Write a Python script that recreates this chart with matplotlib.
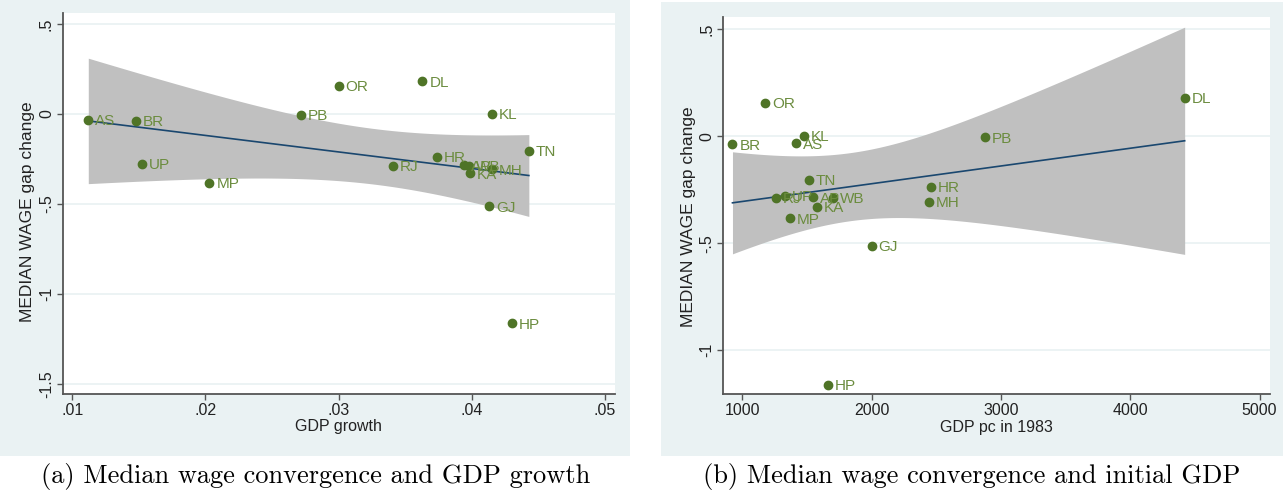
import numpy as np
import matplotlib
matplotlib.use("Agg")
import matplotlib.pyplot as plt
from matplotlib.patches import Rectangle

# datos: estados, cambio de la brecha salarial mediana, crecimiento y PIB inicial
states = ["AS", "BR", "UP", "MP", "PB", "OR", "DL", "KL", "TN",
          "HR", "RJ", "AP", "WB", "KA", "MH", "GJ", "HP"]
gap_change = [-0.034, -0.037, -0.278, -0.383, -0.005, 0.155, 0.181, 0.002, -0.203,
              -0.237, -0.288, -0.285, -0.288, -0.330, -0.308, -0.513, -1.163]
gdp_growth = [0.0112, 0.0148, 0.0152, 0.0203, 0.0272, 0.0300, 0.0363, 0.0415, 0.0443,
              0.0374, 0.0341, 0.0394, 0.0398, 0.0399, 0.0415, 0.0413, 0.0430]
gdp_pc_1983 = [1414, 924, 1329, 1367, 2875, 1177, 4421, 1474, 1515,
               2458, 1262, 1544, 1699, 1579, 2445, 2000, 1664]

yticks_a = [0.5, 0, -0.5, -1, -1.5]
yticklabels_a = [".5", "0", "-.5", "-1", "-1.5"]
xticks_a = [0.01, 0.02, 0.03, 0.04, 0.05]
xticklabels_a = [".01", ".02", ".03", ".04", ".05"]
yticks_b = [0.5, 0, -0.5, -1]
yticklabels_b = [".5", "0", "-.5", "-1"]
xticks_b = [1000, 2000, 3000, 4000, 5000]
xticklabels_b = ["1000", "2000", "3000", "4000", "5000"]

BG = "#eaf2f3"
GRID = "#eaf2f3"
MARKER = "#4f7427"
LABEL = "#6b8c3e"
NAVY = "#1a476f"
BAND = "#c0c0c0"
T975 = 2.1314  # t de Student, 15 g.l.

W, H = 1283, 495
fig = plt.figure(figsize=(W / 100, H / 100), dpi=100)
plt.rcParams["font.family"] = ["Liberation Sans", "DejaVu Sans"]

# fondos de cada panel (pixeles -> fraccion de figura)
def px_rect(x0, y0, x1, y1):
    return [x0 / W, (H - y1) / H, (x1 - x0) / W, (y1 - y0) / H]

for r in (px_rect(0, 0, 630, 456), px_rect(661, 2, 1283, 456)):
    fig.add_artist(Rectangle((r[0], r[1]), r[2], r[3], transform=fig.transFigure,
                             facecolor=BG, edgecolor="none", zorder=0))


def panel(rect, x, y, xlim, ylim, xt, xtl, yt, ytl, xlabel, caption, cap_x, ylab_px, ylab_y):
    ax = fig.add_axes(px_rect(*rect))
    ax.set_facecolor("white")
    x = np.asarray(x, float)
    y = np.asarray(y, float)

    # ajuste lineal con intervalo de confianza al 95%
    b, a = np.polyfit(x, y, 1)
    n = len(x)
    resid = y - (a + b * x)
    s = np.sqrt(np.sum(resid ** 2) / (n - 2))
    sxx = np.sum((x - x.mean()) ** 2)
    xs = np.linspace(x.min(), x.max(), 200)
    fit = a + b * xs
    se = s * np.sqrt(1 / n + (xs - x.mean()) ** 2 / sxx)
    ax.fill_between(xs, fit - T975 * se, fit + T975 * se, color=BAND, lw=0, zorder=1)
    ax.plot(xs, fit, color=NAVY, lw=1.2, zorder=2)

    ax.plot(x, y, "o", color=MARKER, ms=6, zorder=3)
    for xi, yi, s_ in zip(x, y, states):
        ax.annotate(s_, (xi, yi), xytext=(5, -1), textcoords="offset points",
                    va="center", ha="left", color=LABEL, fontsize=11, zorder=4)

    ax.set_xlim(*xlim)
    ax.set_ylim(*ylim)
    ax.set_xticks(xt)
    ax.set_xticklabels(xtl)
    ax.set_yticks(yt)
    ax.set_yticklabels(ytl, rotation=90, va="center")
    for v in yt:
        ax.axhline(v, color=GRID, lw=1.3, zorder=0.5)
    for sp in ("top", "right"):
        ax.spines[sp].set_visible(False)
    for sp in ("left", "bottom"):
        ax.spines[sp].set_color("#555555")
        ax.spines[sp].set_linewidth(1.3)
    ax.tick_params(direction="out", length=4.5, width=1, color="#555555",
                   labelsize=11.5, pad=2, labelcolor="#222222")
    ax.set_xlabel(xlabel, fontsize=11.5, color="#222222", va="center")
    ax.xaxis.set_label_coords(0.5, -0.088)
    ax.set_ylabel("MEDIAN WAGE gap change", fontsize=12.5, color="#222222", va="center")
    ax.yaxis.set_label_coords((ylab_px - rect[0]) / (rect[2] - rect[0]), ylab_y)
    fig.text(cap_x / W, (H - 477) / H, caption, ha="center", va="center",
             fontsize=19, family="cmr10", color="black")
    return ax


panel((63, 13.3, 614.7, 393.5), gdp_growth, gap_change, (0.0093, 0.05075), (-1.552, 0.559),
      xticks_a, xticklabels_a, yticks_a, yticklabels_a, "GDP growth",
      "(a) Median wage convergence and GDP growth", 316, 28, 0.478)
panel((723.3, 16.7, 1269.5, 394.3), gdp_pc_1983, gap_change, (853, 5077), (-1.207, 0.559),
      xticks_b, xticklabels_b, yticks_b, yticklabels_b, "GDP pc in 1983",
      "(b) Median wage convergence and initial GDP", 972, 688, 0.47)

fig.savefig("out.png", dpi=100)
